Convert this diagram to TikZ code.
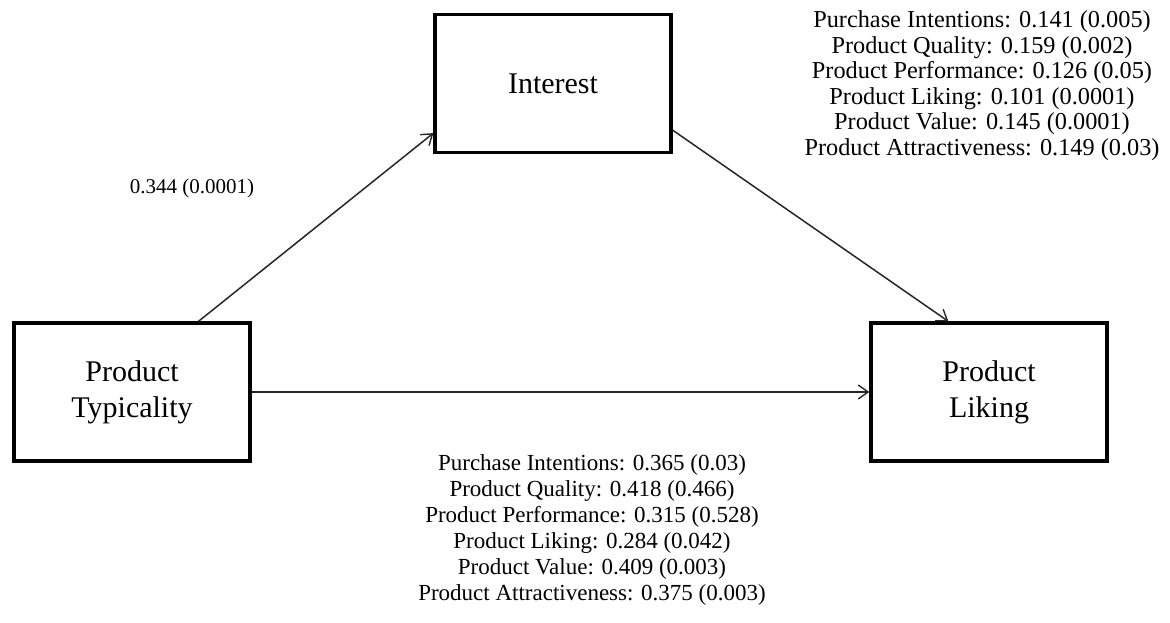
\documentclass[tikz,border=0pt]{standalone}
\usepackage{fontspec}
\setmainfont{Liberation Serif}
\usetikzlibrary{arrows.meta}
\begin{document}
\begin{tikzpicture}[x=1pt,y=-1pt,
  box/.style={draw=black,line width=3.2pt,minimum width=236pt,minimum height=138pt,
    inner sep=0pt,align=center,font=\fontsize{30}{36}\selectfont},
  arr/.style={draw=black!85,line width=1.5pt,-{Straight Barb[length=10pt,width=14pt,line width=1.4pt]}},
  stat/.style={align=center,inner sep=0pt},
  coef/.style={inner sep=0pt,font=\fontsize{21}{24}\selectfont}]
\useasboundingbox (0,0) rectangle (1170,622);
% constructs
\node[box] (pt) at (132,392) {Product\\Typicality};
\node[box] (int) at (553,83.5) {Interest};
\node[box] (pl) at (989,392) {Product\\Liking};
% paths
\draw[arr] ([xshift=186pt]pt.north west) -- ([yshift=21pt]int.south west);
\draw[arr] ([yshift=24pt]int.south east) -- ([xshift=79pt]pl.north west);
\draw[arr] (pt.east) -- (pt.east -| pl.west);
% coefficients
\node[coef] (a) at (192,188) {0.344 (0.0001)};
\node[stat,font=\fontsize{24.3}{25.5}\selectfont] (b) at (982,85.5) {Purchase Intentions: 0.141 (0.005)\\
Product Quality: 0.159 (0.002)\\
Product Performance: 0.126 (0.05)\\
Product Liking: 0.101 (0.0001)\\
Product Value: 0.145 (0.0001)\\
Product Attractiveness: 0.149 (0.03)};
\node[stat,font=\fontsize{23}{26}\selectfont] (c) at (592,530) {Purchase Intentions: 0.365 (0.03)\\
Product Quality: 0.418 (0.466)\\
Product Performance: 0.315 (0.528)\\
Product Liking: 0.284 (0.042)\\
Product Value: 0.409 (0.003)\\
Product Attractiveness: 0.375 (0.003)};
\end{tikzpicture}
\end{document}
